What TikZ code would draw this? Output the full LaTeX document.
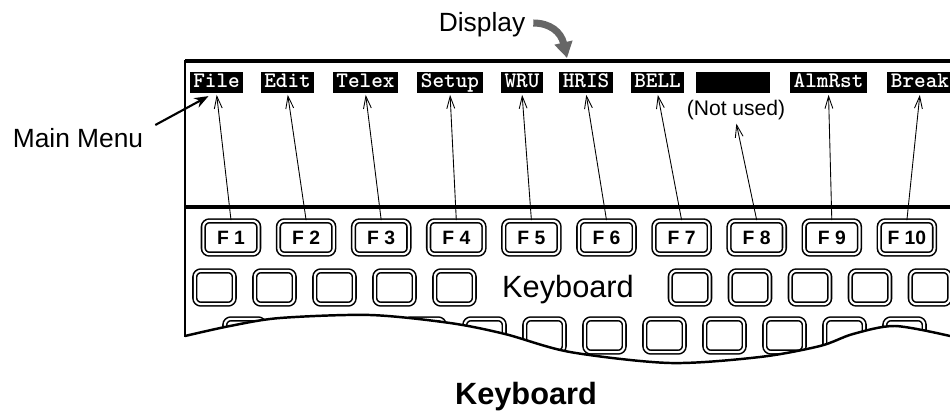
\documentclass[tikz,border=0pt]{standalone}
\usepackage{fontspec}
\setmainfont{Liberation Sans}
\usetikzlibrary{arrows.meta}
\tikzset{
  keycap/.style={draw,rounded corners=3.4pt,line width=0.9pt,double,double distance=1.2pt,
                 minimum width=22.4pt,minimum height=18.9pt,inner sep=0pt},
  fkey/.style={keycap,minimum width=31.5pt,font=\fontsize{11}{12}\selectfont\bfseries},
  menuitem/.style={fill=black,text=white,inner xsep=2pt,inner ysep=0.6pt,
                   text height=8pt,text depth=2.5pt,font=\fontsize{12.6}{14}\selectfont\ttfamily\bfseries},
  keyarr/.style={-{Straight Barb[length=7pt,width=4.5pt]},line width=0.5pt,shorten >=1pt},
  callout/.style={-{Stealth[length=8pt,width=6pt]},line width=1.2pt},
  disparr/.style={-{Triangle[length=9pt,width=10pt]},line width=4pt,black!60},
  lbl/.style={font=\fontsize{15}{17}\selectfont,inner sep=1pt},
  frame/.style={line width=1.8pt}
}
\begin{document}
\begin{tikzpicture}[x=0.02cm,y=-0.02cm]
  \useasboundingbox (0,0) rectangle (950,415);
  \clip (0,0) rectangle (950,415);
  % display and keyboard outline
  \draw[frame] (185,61) -- (950,61);
  \draw[line width=1.1pt] (185,60) -- (185,337);
  \draw[frame] (185,207) -- (950,207);
  % menu bar
  \node[menuitem] (file) at (216.5,82.5) {File};
  \node[menuitem] (edit) at (287.5,82.5) {Edit};
  \node[menuitem] (telex) at (365.5,82.5) {Telex};
  \node[menuitem] (setup) at (450,82.5) {Setup};
  \node[menuitem] (wru) at (522,82.5) {WRU};
  \node[menuitem] (hris) at (586,82.5) {HRIS};
  \node[menuitem] (bell) at (657.5,82.5) {BELL};
  \node[menuitem,minimum width=42pt] (spare) at (733,82.5) {};
  \node[menuitem] (almrst) at (828.5,82.5) {AlmRst};
  \node[menuitem] (brk) at (920,82.5) {Break};
  \node[font=\fontsize{12}{14}\selectfont,inner sep=1pt] (notused) at (736,110) {(Not used)};
  \node[lbl] (mainmenu) at (78,138) {Main Menu};
  \node[lbl] (disp) at (482,25) {Display};
  \coordinate (disptip) at (567,58);
  % keys
  \foreach \i in {1,...,10}
    \node[fkey] (f\i) at ({231+75.1*(\i-1)},237.5) {F \i};
  \foreach \k in {0,...,4}{
    \node[keycap] (ka\k) at ({214.5+60*\k},287.5) {};
    \node[keycap] (kb\k) at ({690+60*\k},287.5) {};
  }
  \node[font=\fontsize{17.5}{20}\selectfont,inner sep=1pt] (kbtext) at (568,290) {Keyboard};
  \begin{scope}
    \clip (185,300) -- plot[smooth] coordinates {(185,336) (230,326) (280,318) (370,315)
      (450,323) (505,334) (570,352) (670,363) (760,357) (820,346) (853,334) (895,326) (950,336)}
      -- (950,300) -- cycle;
    \foreach \k in {0,...,11}
      \node[keycap] (kc\k) at ({244.5+60*\k},335.5) {};
  \end{scope}
  \draw[line width=1.4pt] plot[smooth] coordinates {(185,336) (230,326) (280,318) (370,315)
      (450,323) (505,334) (570,352) (670,363) (760,357) (820,346) (853,334) (895,326) (950,336)};
  % key to menu arrows
  \foreach \i/\m in {1/file,2/edit,3/telex,4/setup,5/wru,6/hris,7/bell,9/almrst,10/brk}
    \draw[keyarr] (f\i.north) -- (\m.south);
  \draw[keyarr] (f8.north) -- (notused.south);
  \draw[callout] ([shift={(10,-13)}]mainmenu.east) -- ([shift={(-8,3)}]file.south);
  \draw[disparr] ([shift={(6,-2)}]disp.east) .. controls (550,23) and (561,32) .. (disptip);
  \node[font=\fontsize{17.5}{20}\selectfont\bfseries,inner sep=1pt] (title) at (526,397) {Keyboard};
\end{tikzpicture}
\end{document}
